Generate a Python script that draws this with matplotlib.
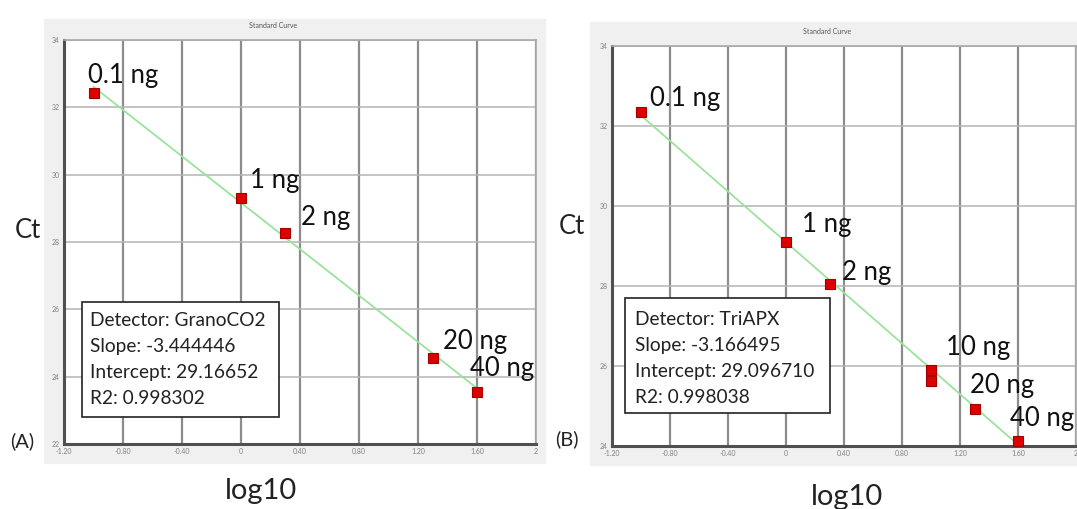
import matplotlib
matplotlib.use("Agg")
import matplotlib.pyplot as plt
from matplotlib.patches import Rectangle

plt.rcParams["font.family"] = ["Lato", "DejaVu Sans"]

# ---- data ----
a_labels = ["0.1 ng", "1 ng", "2 ng", "20 ng", "40 ng"]
a_log = [-1.0, 0.0, 0.301, 1.301, 1.602]
a_ct = [32.43, 29.31, 28.27, 24.55, 23.55]
a_info = ["Detector: GranoCO2", "Slope: -3.444446", "Intercept: 29.16652", "R2: 0.998302"]
a_slope, a_icpt = -3.444446, 29.16652

b_labels = ["0.1 ng", "1 ng", "2 ng", "10 ng", "10 ng", "20 ng", "40 ng"]
b_log = [-1.0, 0.0, 0.301, 1.0, 1.0, 1.301, 1.602]
b_ct = [32.35, 29.10, 28.05, 25.90, 25.63, 24.93, 24.12]
b_info = ["Detector: TriAPX", "Slope: -3.166495", "Intercept: 29.096710", "R2: 0.998038"]
b_slope, b_icpt = -3.166495, 29.096710

xticks = [-1.2, -0.8, -0.4, 0, 0.4, 0.8, 1.2, 1.6, 2.0]
xticklabels = ["-1.20", "-0.80", "-0.40", "0", "0.40", "0.80", "1.20", "1.60", "2"]

W, H = 1077, 509
fig = plt.figure(figsize=(W / 100, H / 100), dpi=100)


def fx(px):
    return px / W


def fy(py):
    return 1 - py / H


def panel(gray, axbox, ylim, logs, cts, labels, offs, slope, icpt, xend,
          infobox, info_x, info_base, tag, tag_xy, ct_xy, log_xy, title_xy):
    gx0, gy0, gx1, gy1 = gray
    fig.patches.append(Rectangle((fx(gx0), fy(gy1)), fx(gx1 - gx0), (gy1 - gy0) / H,
                                 transform=fig.transFigure, color="#f0f0f0", zorder=-5))
    l, t, r, b = axbox
    ax = fig.add_axes([fx(l), fy(b), fx(r - l), (b - t) / H])
    ax.set_zorder(1)
    ax.set_facecolor("white")
    ax.set_xlim(-1.2, 2.0)
    ax.set_ylim(*ylim)
    ax.set_xticks(xticks)
    ax.set_xticklabels(xticklabels)
    ax.set_yticks(range(ylim[0], ylim[1] + 1, 2))
    ax.tick_params(length=0, labelsize=5, colors="#808080", pad=3)
    ax.xaxis.grid(True, color="#8c8c8c", lw=1.6)
    ax.yaxis.grid(True, color="#b4b4b4", lw=1.1)
    ax.set_axisbelow(True)
    for s in ("left", "bottom"):
        ax.spines[s].set_color("#505050")
        ax.spines[s].set_linewidth(2.2)
    for s in ("top", "right"):
        ax.spines[s].set_color("#a8a8a8")
        ax.spines[s].set_linewidth(1.2)

    ax.plot([-1.0, xend], [icpt + slope * -1.0, icpt + slope * xend],
            color="#9be39b", lw=1.3, zorder=2)
    ax.plot(logs, cts, ls="none", marker="s", ms=7.5, mfc="#dd0000", mec="#a00000",
            mew=0.8, zorder=3)
    seen = set()
    for lab, x, y, (dx, dy) in zip(labels, logs, cts, offs):
        if lab in seen:
            continue
        seen.add(lab)
        ax.annotate(lab, (x, y), xytext=(dx * 0.72, dy * 0.72), textcoords="offset points",
                    fontsize=18.5, color="#111111", va="baseline", ha="left")

    bx0, by0, bx1, by1 = infobox
    fig.patches.append(Rectangle((fx(bx0), fy(by1)), fx(bx1 - bx0), (by1 - by0) / H,
                                 transform=fig.transFigure, facecolor="white",
                                 edgecolor="#222222", lw=1.2, zorder=5))
    for i, line in enumerate(info_base[1]):
        fig.text(fx(info_x), fy(info_base[0] + 26 * i), line, fontsize=13.8,
                 color="#222222", va="baseline", ha="left", zorder=6)

    fig.text(fx(tag_xy[0]), fy(tag_xy[1]), tag, fontsize=14.5, va="center", ha="center",
             color="#222222")
    fig.text(fx(ct_xy[0]), fy(ct_xy[1]), "Ct", fontsize=18.5, va="center", ha="center",
             color="#222222")
    fig.text(fx(log_xy[0]), fy(log_xy[1]), "log10", fontsize=21, va="center", ha="center",
             color="#222222")
    fig.text(fx(title_xy[0]), fy(title_xy[1]), "Standard Curve", fontsize=5, va="center",
             ha="center", color="#555555")
    return ax


a_offs = [(-5, 10), (9, 10), (16, 8), (10, 9), (-7, 16)]
panel((44, 19, 545, 463), (64, 40, 536, 444), (22, 34), a_log, a_ct, a_labels, a_offs,
      a_slope, a_icpt, 1.602, (82, 302, 279, 417), 90, (326, a_info), "(A)", (22, 441),
      (28, 231), (261, 491), (273, 25))

b_offs = [(9, 6), (16, 10), (12, 4), (15, 15), (15, 15), (-5, 16), (-8, 15)]
panel((590, 22, 1077, 465), (612, 46, 1076, 446), (24, 34), b_log, b_ct, b_labels, b_offs,
      b_slope, b_icpt, 1.61, (625, 298, 830, 413), 635, (325, b_info), "(B)", (567, 439),
      (572, 227), (847, 497), (827, 31))

fig.savefig("out.png", dpi=100, facecolor="white")
